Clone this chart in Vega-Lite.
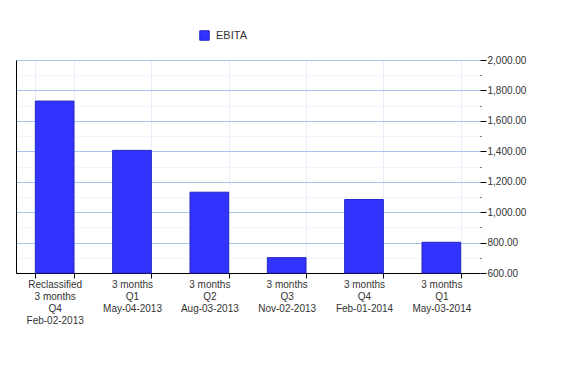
{
  "$schema": "https://vega.github.io/schema/vega-lite/v6.json",
  "autosize": {"type": "none"},
  "width": 464,
  "height": 213,
  "padding": {"left": 16, "top": 60, "right": 94, "bottom": 105},
  "background": "white",
  "config": {
    "font": "Liberation Sans",
    "view": {"stroke": null}
  },
  "data": {
    "values": [
      {"period": "Reclassified|3 months|Q4|Feb-02-2013", "series": "EBITA", "value": 1730},
      {"period": "3 months|Q1|May-04-2013", "series": "EBITA", "value": 1406},
      {"period": "3 months|Q2|Aug-03-2013", "series": "EBITA", "value": 1131},
      {"period": "3 months|Q3|Nov-02-2013", "series": "EBITA", "value": 701},
      {"period": "3 months|Q4|Feb-01-2014", "series": "EBITA", "value": 1083},
      {"period": "3 months|Q1|May-03-2014", "series": "EBITA", "value": 802}
    ]
  },
  "layer": [
    {
      "mark": {"type": "bar", "stroke": "#2626c8", "strokeWidth": 1},
      "encoding": {
        "x": {
          "field": "period",
          "type": "nominal",
          "sort": null,
          "scale": {"paddingInner": 0.5, "paddingOuter": 0.25},
          "axis": {
            "title": null,
            "labelAngle": 0,
            "labelExpr": "split(datum.label, '|')",
            "labelFontSize": 10,
            "labelColor": "#333333",
            "labelLineHeight": 12,
            "labelPadding": 1,
            "labelBaseline": "top",
            "tickBand": "extent",
            "tickColor": "#000000",
            "tickSize": 5,
            "domainColor": "#000000",
            "grid": true,
            "gridColor": "#e6eefc",
            "gridWidth": 1
          }
        },
        "y": {
          "field": "value",
          "type": "quantitative",
          "stack": null,
          "scale": {"domain": [600, 2000], "zero": false, "nice": false},
          "axis": {
            "orient": "right",
            "title": null,
            "values": [600, 700, 800, 900, 1000, 1100, 1200, 1300, 1400, 1500, 1600, 1700, 1800, 1900, 2000],
            "format": ",.2f",
            "labelExpr": "datum.value % 200 == 0 ? datum.label : ''",
            "labelFontSize": 10,
            "labelColor": "#333333",
            "labelPadding": 1,
            "domain": false,
            "tickColor": "#000000",
            "tickSize": {"condition": {"test": "datum.value % 200 == 0", "value": 6}, "value": 1},
            "grid": true,
            "gridColor": {"condition": {"test": "datum.value % 200 == 0", "value": "#a9c4f3"}, "value": "#f1f4fb"},
            "gridWidth": 1
          }
        },
        "color": {
          "field": "series",
          "type": "nominal",
          "scale": {"range": ["#3333ff"]},
          "legend": {
            "title": null,
            "orient": "none",
            "legendX": 183,
            "legendY": -30,
            "padding": 0,
            "symbolType": "square",
            "symbolSize": 90,
            "symbolStrokeColor": "#2626c8",
            "symbolStrokeWidth": 1,
            "labelFontSize": 11,
            "labelColor": "#333333",
            "labelOffset": 6
          }
        }
      }
    },
    {
      "mark": {"type": "bar", "opacity": 0},
      "encoding": {
        "x": {"field": "period", "type": "nominal", "sort": null},
        "y": {
          "field": "value",
          "type": "quantitative",
          "stack": null,
          "scale": {"domain": [600, 2000], "zero": false, "nice": false},
          "axis": {
            "orient": "left",
            "title": null,
            "labels": false,
            "ticks": false,
            "grid": false,
            "domain": true,
            "domainColor": "#000000"
          }
        }
      }
    }
  ],
  "resolve": {"axis": {"y": "independent"}}
}
